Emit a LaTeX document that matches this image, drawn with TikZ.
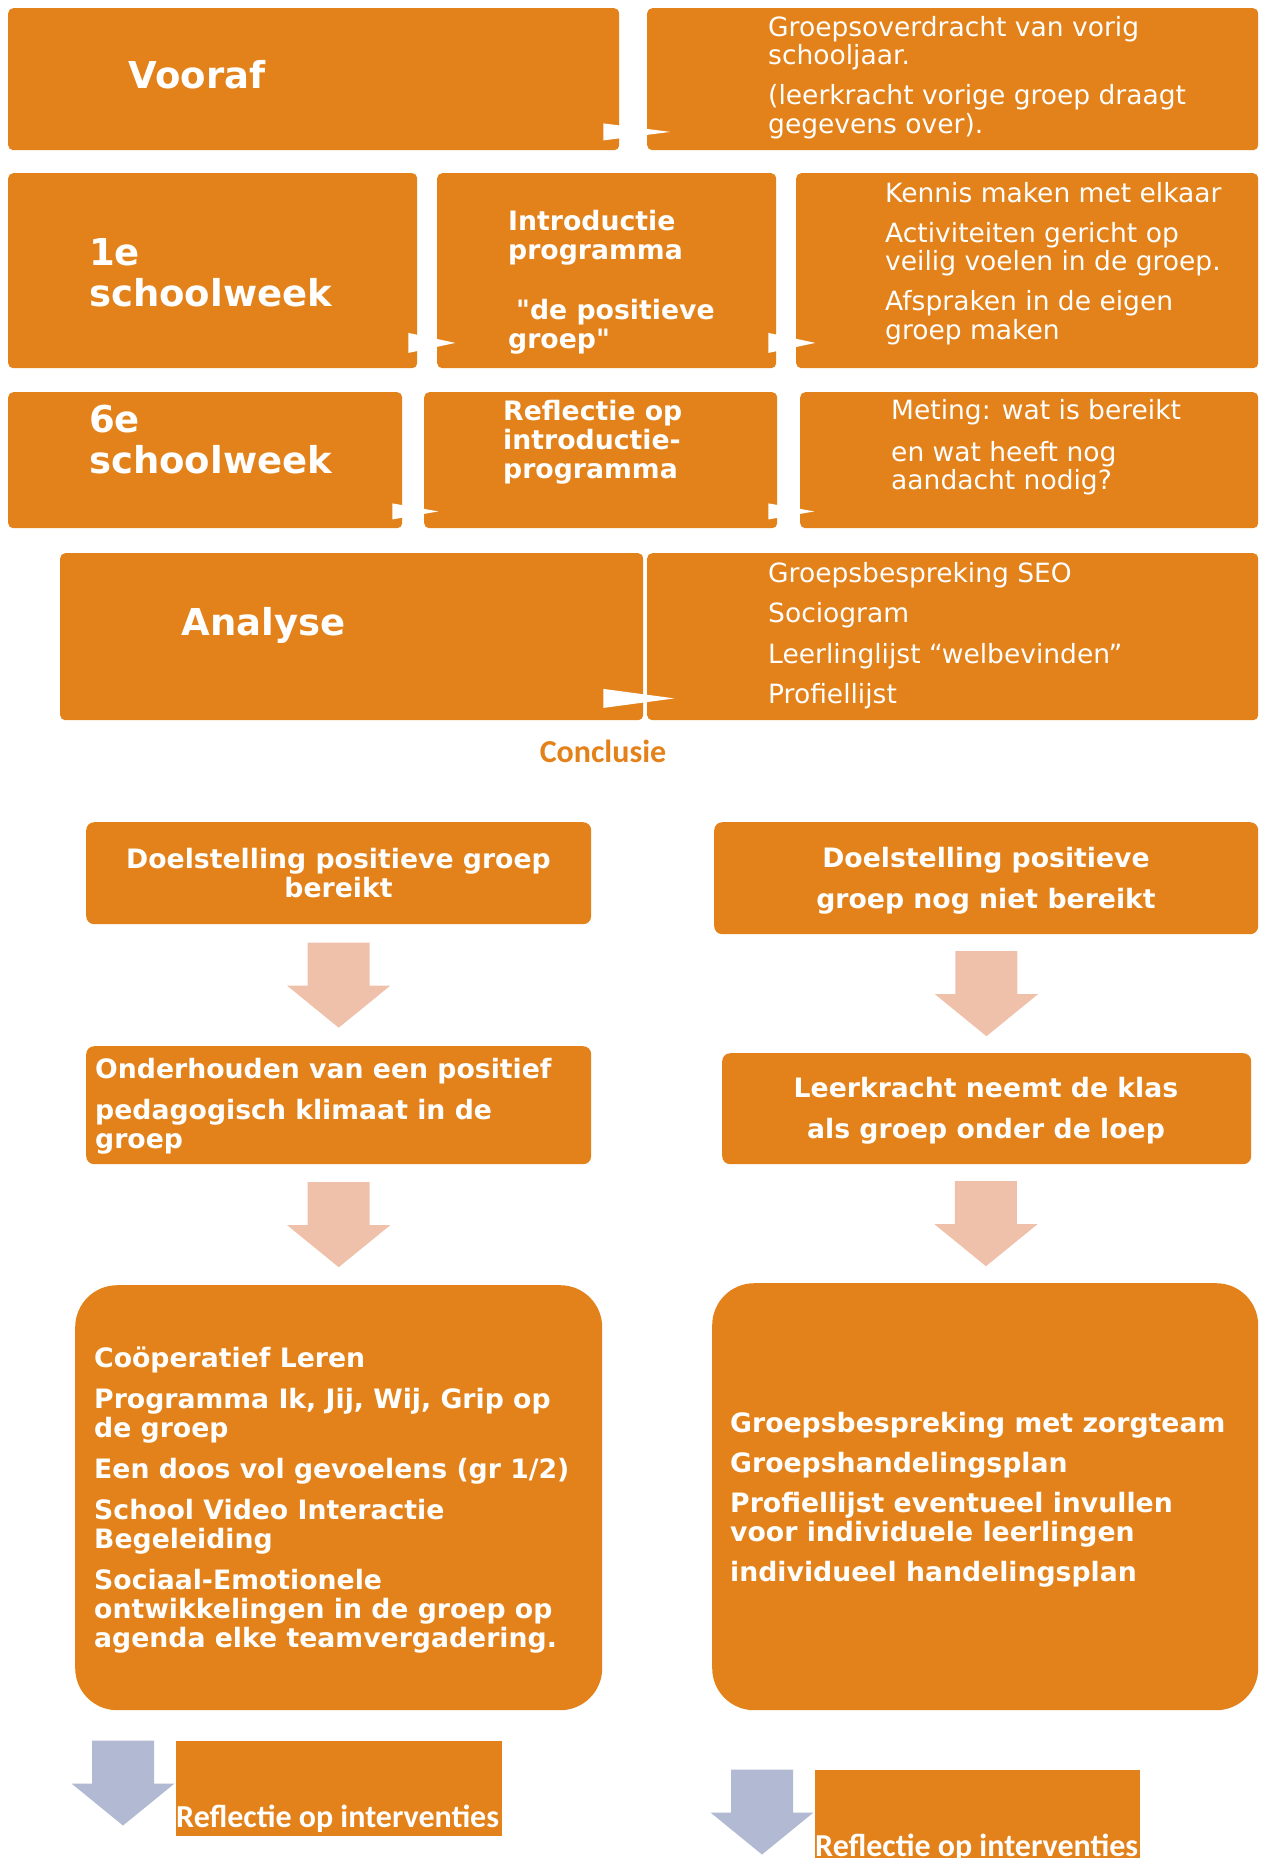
\documentclass[tikz,border=0pt]{standalone}
\usepackage{fontspec}
\setmainfont{DejaVu Sans}[Ligatures=TeXOff]
\newfontfamily\calibri{Carlito}
\usetikzlibrary{calc}
\definecolor{oranje}{HTML}{E3821A}
\definecolor{zalm}{HTML}{EFC1AA}
\definecolor{grijsblauw}{HTML}{B1B9D3}
\newcommand{\kopfont}{\fontsize{37}{41}\selectfont\bfseries}
\newcommand{\vetfont}{\fontsize{26.7}{29}\selectfont\bfseries}
\newcommand{\gewfont}{\fontsize{26.5}{28.5}\selectfont}
\newcommand{\calfont}{\calibri\fontsize{32}{34}\selectfont\bfseries}

\begin{document}
\begin{tikzpicture}[x=1pt, y=-1pt,
		blok/.style={fill=oranje, rounded corners=5pt, inner sep=0pt, anchor=north west},
		vak/.style={blok, rounded corners=8pt},
		groot/.style={blok, rounded corners=42pt},
		kop/.style={text=white, inner sep=0pt, font=\kopfont, align=left},
		vet/.style={text=white, inner sep=0pt, font=\vetfont},
		gew/.style={text=white, inner sep=0pt, font=\gewfont, align=left},
		cal/.style={inner sep=0pt, font=\calfont},
		pics/pijl/.style={code={\fill[#1] (-31,-42.5) -- (31,-42.5) -- (31,0.5) -- (51.5,0.5) -- (0,42.5) -- (-51.5,0.5) -- (-31,0.5) -- cycle;}},
		pics/driehoek/.style args={#1/#2}{code={\fill[white] (0,-#2) -- (#1,0) -- (0,#2) -- cycle;}}]
		\useasboundingbox (0,0) rectangle (1261,1858);
		\clip (0,0) rectangle (1261,1858);
		
		\node[blok, minimum width=611pt, minimum height=142pt] (vooraf) at (8,8) {};
		\node[blok, minimum width=611pt, minimum height=142pt] (overdracht) at (647,8) {};
		\node[blok, minimum width=409pt, minimum height=195pt] (week1) at (8,173) {};
		\node[blok, minimum width=339pt, minimum height=195pt] (intro) at (437,173) {};
		\node[blok, minimum width=462pt, minimum height=195pt] (kennis) at (796,173) {};
		\node[blok, minimum width=394pt, minimum height=136pt] (week6) at (8,392) {};
		\node[blok, minimum width=353pt, minimum height=136pt] (reflintro) at (424,392) {};
		\node[blok, minimum width=458pt, minimum height=136pt] (meting) at (800,392) {};
		\node[blok, minimum width=583pt, minimum height=167pt] (analyse) at (60,553) {};
		\node[blok, minimum width=611pt, minimum height=167pt] (middelen) at (647,553) {};
		
		\pic at ($(vooraf.south east)+(-16,-18.5)$) {driehoek=67/8.5};
		\pic at ($(week1.south east)+(-9,-25.5)$) {driehoek=47/10};
		\pic at ($(intro.south east)+(-8,-25.5)$) {driehoek=47/10};
		\pic at ($(week6.south east)+(-10,-17)$) {driehoek=46/8};
		\pic at ($(reflintro.south east)+(-9,-17)$) {driehoek=46/8};
		\pic at ($(analyse.south east)+(-40,-22)$) {driehoek=71/9.5};
		
		\node[kop, anchor=base] (voorafkop) at (197,88) {Vooraf};
		\node[gew, anchor=north west] (overdrachttxt) at (768,16) {Groepsoverdracht van vorig\\schooljaar.\\[11.5pt](leerkracht vorige groep draagt\\gegevens over).};
		\node[kop, anchor=north west] (week1kop) at (89,238) {1e\\schoolweek};
		\node[vet, align=left, anchor=north west] (introtxt) at (508,210) {Introductie\\programma\\[31.5pt]\hspace*{8pt}"de positieve\\groep"};
		\node[gew, anchor=north west] (kennistxt) at (885,182) {Kennis maken met elkaar\\[11.5pt]Activiteiten gericht op\\veilig voelen in de groep.\\[11.5pt]Afspraken in de eigen\\groep maken};
		\node[kop, anchor=north west] (week6kop) at (89,405) {6e\\schoolweek};
		\node[vet, align=left, anchor=north west] (reflintrotxt) at (503,400) {Reflectie op\\introductie-\\programma};
		\node[gew, anchor=north west] (metingtxt) at (891,399) {Meting: wat is bereikt\\[13.5pt]en wat heeft nog\\aandacht nodig?};
		\node[kop, anchor=base] (analysekop) at (263.5,635) {Analyse};
		\node[gew, anchor=north west] (middelentxt) at (768,562) {Groepsbespreking SEO\\[12pt]Sociogram\\[12pt]Leerlinglijst “welbevinden”\\[12pt]Profiellijst};
		
		\node[cal, text=oranje, anchor=base] (conclusie) at (603,762) {Conclusie};
		
		\node[vak, minimum width=505pt, minimum height=102pt] (doelA) at (86,822) {};
		\node[vak, minimum width=505pt, minimum height=118pt] (onderhoudB) at (86,1046) {};
		\node[groot, minimum width=527pt, minimum height=425pt] (activC) at (75,1285) {};
		\node[blok, rounded corners=0pt, minimum width=326pt, minimum height=95pt] (reflA) at (176,1741) {};
		\node[vak, minimum width=544pt, minimum height=112pt] (doelE) at (714,822) {};
		\node[vak, minimum width=529pt, minimum height=111pt] (leerkrachtF) at (722,1053) {};
		\node[groot, minimum width=546pt, minimum height=427pt] (zorgG) at (712,1283) {};
		\node[blok, rounded corners=0pt, minimum width=325pt, minimum height=95pt] (reflH) at (815,1770) {};
		
		\pic at ($(doelA.south)!.5!(onderhoudB.north)$) {pijl=zalm};
		\pic at ($(onderhoudB.south)!.5!(activC.north)$) {pijl=zalm};
		\pic at ($(doelE.south)!.5!(leerkrachtF.north)$) {pijl=zalm};
		\pic at ($(leerkrachtF.south)!.5!(zorgG.north)$) {pijl=zalm};
		\pic at ($(reflA.north west)+(-53,42)$) {pijl=grijsblauw};
		\pic at ($(reflH.north west)+(-53,42)$) {pijl=grijsblauw};
		
		\node[vet, align=center, anchor=north] (doelAtxt) at (338.5,847.7) {Doelstelling positieve groep\\bereikt};
		\node[vet, align=left, anchor=north west] (onderhoudBtxt) at (95,1057.7) {Onderhouden van een positief\\[12pt]pedagogisch klimaat in de\\groep};
		\node[vet, align=left, anchor=north west] (activCtxt) at (94,1346.7) {Coöperatief Leren\\[12pt]Programma Ik, Jij, Wij, Grip op\\de groep\\[12pt]Een doos vol gevoelens (gr 1/2)\\[12pt]School Video Interactie\\Begeleiding\\[12pt]Sociaal-Emotionele\\ontwikkelingen in de groep op\\agenda elke teamvergadering.};
		\node[vet, align=center, anchor=north] (doelEtxt) at (986,846.7) {Doelstelling positieve\\[12pt]groep nog niet bereikt};
		\node[vet, align=center, anchor=north] (leerkrachtFtxt) at (986,1076.7) {Leerkracht neemt de klas\\[12pt]als groep onder de loep};
		\node[vet, align=left, anchor=north west] (zorgGtxt) at (730,1411.7) {Groepsbespreking met zorgteam\\[11pt]Groepshandelingsplan\\[11pt]Profiellijst eventueel invullen\\voor individuele leerlingen\\[11pt]individueel handelingsplan};
		\node[cal, text=white, anchor=base west] (reflAtxt) at (176,1827) {Reflectie op interventies};
		\node[cal, text=white, anchor=base west] (reflHtxt) at (815,1856) {Reflectie op interventies};
	\end{tikzpicture}
\end{document}
